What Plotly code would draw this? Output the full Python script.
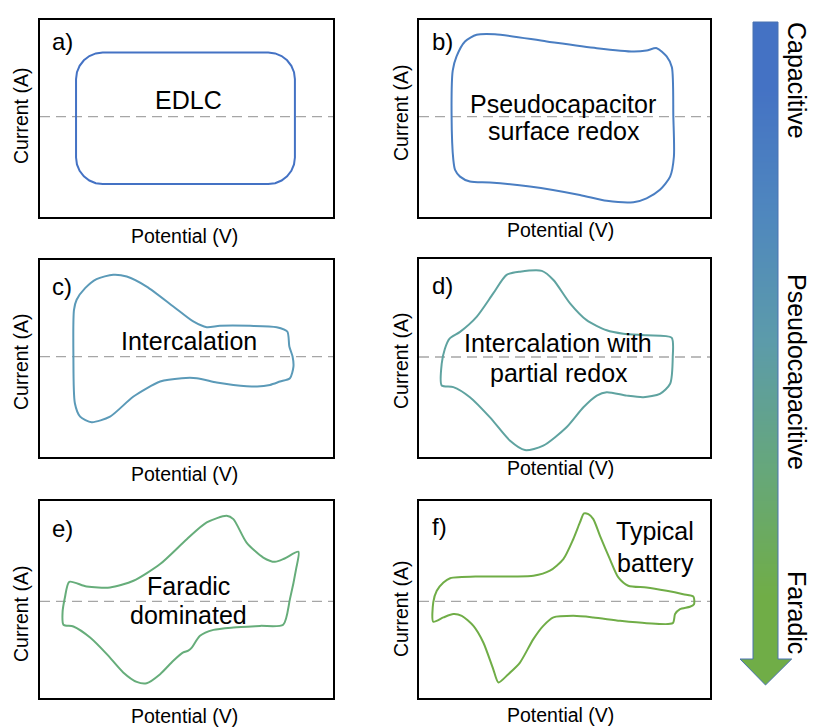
import plotly.graph_objects as go

# ------------------------------------------------------------------ data
# Schematic cyclic voltammograms (potential 0-100, current in arbitrary units, 0 = dashed line)
potential_a = [12.3, 12.3, 12.61, 13.52, 14.97, 16.85, 19.04, 21.4,
               77.9, 80.26, 82.45, 84.33, 85.78, 86.69, 87.0,
               87.0, 86.69, 85.78, 84.33, 82.45, 80.26, 77.9,
               21.4, 19.04, 16.85, 14.97, 13.52, 12.61, 12.3, 12.3]
current_a = [0, 19.0, 22.5, 25.75, 28.55, 30.69, 32.04, 32.5,
             32.5, 32.04, 30.69, 28.55, 25.75, 22.5, 19.0,
             -20.8, -24.3, -27.55, -30.35, -32.49, -33.84, -34.3,
             -34.3, -33.84, -32.49, -30.35, -27.55, -24.3, -20.8, 0]

potential_b = [11.6, 12.9, 15.8, 19.8, 26.1, 43.9, 61.1, 73.7, 78.2, 81.7, 85.1, 86.9, 87.4, 87.6,
               86.3, 82.8, 78.2, 73.7, 64.5, 55.3, 38.1, 24.4, 17.5, 14.1, 12.4, 11.8, 11.2, 11.6]
current_b = [23.4, 30.5, 38.1, 41.5, 41.8, 38.1, 34.7, 33.0, 33.5, 34.7, 30.5, 25.0, 0, -20.3,
             -30.5, -37.2, -41.5, -43.5, -42.8, -39.8, -35.5, -33.5, -33.0, -30.5, -27.1, -22.0, 0, 23.4]

potential_c = [11.6, 12.5, 15.4, 19.3, 25.0, 29.6, 36.4, 45.5, 52.3, 56.9, 61.4, 71.7, 80.8, 84.4,
               85.1, 86.2, 86.5, 85.3, 81.9, 78.5, 74.1, 66.0, 60.3, 53.5, 48.4, 41.0, 31.9, 23.9,
               17.6, 13.7, 11.9, 11.4, 11.6]
current_c = [23.7, 28.8, 34.7, 39.3, 41.5, 40.6, 35.5, 25.4, 17.8, 14.9, 15.6, 15.6, 14.9, 12.7,
             5.1, 0, -5.1, -11.0, -12.7, -14.4, -15.2, -14.4, -13.2, -11.0, -11.0, -12.7, -20.3, -30.5,
             -33.3, -30.5, -23.7, 0, 23.7]

potential_d = [7.8, 7.8, 8.9, 10.5, 14.1, 19.8, 25.5, 30.1, 34.7, 42.2, 46.2, 51.9, 57.6, 64.5,
               70.2, 78.2, 86.8, 87.2, 86.3, 82.8, 77.1, 71.4, 64.5, 61.1, 56.5, 50.7, 42.7, 36.4,
               31.3, 24.4, 17.5, 11.8, 7.8]
current_d = [-14.4, -3.4, 4.2, 9.3, 12.7, 20.3, 32.1, 41.5, 43.1, 43.5, 38.9, 27.1, 18.6, 13.5,
             11.8, 11.0, 9.8, 0, -13.5, -18.6, -20.3, -19.5, -17.8, -19.5, -25.4, -35.5, -44.8, -47.0,
             -42.3, -30.5, -20.3, -15.2, -14.4]

potential_e = [10.0, 15.9, 23.9, 31.9, 41.0, 50.1, 56.9, 63.7, 66.0, 70.5, 76.2, 80.2, 83.5, 88.2,
               87.4, 85.3, 83.0, 75.1, 66.0, 59.2, 54.6, 51.8, 50.6, 48.9, 45.5, 41.0, 36.4, 33.0,
               28.4, 22.8, 17.1, 11.4, 8.0, 7.7, 8.5, 10.0]
current_e = [10.0, 7.6, 7.1, 10.5, 19.0, 31.6, 40.1, 43.5, 41.8, 29.9, 22.3, 20.1, 21.8, 25.2,
             16.4, 1.2, -11.8, -12.4, -13.2, -14.4, -17.4, -23.4, -25.0, -25.9, -30.1, -36.9, -41.5, -40.8,
             -36.0, -26.7, -18.3, -12.7, -11.8, -5.6, 2.0, 10.0]

potential_f = [4.9, 4.9, 6.1, 8.4, 10.7, 20.9, 32.4, 39.3, 45.0, 49.6, 53.0, 55.3, 56.7, 58.2, 59.9,
               62.2, 65.6, 68.5, 71.9, 78.2, 85.1, 90.8, 94.3, 94.5, 93.1, 89.7, 88.0, 87.2, 78.2,
               69.1, 59.9, 53.0, 46.2, 42.7, 39.3, 34.7, 30.7, 27.3, 25.5, 22.1, 18.7, 14.7, 11.8,
               8.4, 4.9]
current_f = [-10.3, -0.5, 5.4, 9.6, 11.8, 12.7, 12.7, 13.0, 15.6, 21.5, 31.6, 40.1, 44.7, 44.3, 41.8,
             33.3, 21.5, 12.2, 8.0, 7.1, 5.4, 3.7, 2.5, -1.4, -2.7, -3.9, -6.4, -11.0, -11.0,
             -9.8, -8.1, -7.3, -8.1, -12.4, -19.1, -31.0, -36.9, -41.1, -34.3, -20.8, -12.4, -7.3, -6.4,
             -8.1, -10.3]

panel_letters = ["a)", "b)", "c)", "d)", "e)", "f)"]
panel_labels = [["EDLC"], ["Pseudocapacitor", "surface redox"], ["Intercalation"],
                ["Intercalation with", "partial redox"], ["Faradic", "dominated"], ["Typical", "battery"]]
x_title = "Potential (V)"
y_title = "Current (A)"
arrow_labels = ["Capacitive", "Pseudocapacitive", "Faradic"]

potentials = [potential_a, potential_b, potential_c, potential_d, potential_e, potential_f]
currents = [current_a, current_b, current_c, current_d, current_e, current_f]

# ------------------------------------------------------------------ style / layout
W, H = 813, 727
FONT = "Liberation Sans, Arial, sans-serif"
curve_colors = ["#4472C4", "#4A7EC2", "#5B9AB8", "#5FA3A0", "#66AD7A", "#70AD47"]
curve_shapes = ["linear", "spline", "spline", "spline", "spline", "spline"]

# left, right, top, bottom (px), y-range
panels = [
    (40, 333, 20, 217, [-51, 49]),
    (419, 710, 20, 217, [-51, 49]),
    (40, 333, 260, 457, [-51, 49]),
    (419, 710, 259, 457, [-50.5, 49.5]),
    (40, 333, 501, 698, [-49, 51]),
    (419, 710, 501, 698, [-49, 51]),
]
letter_pos = [(50, 42), (430, 42), (50, 286), (430, 285), (50, 528), (430, 526)]
label_pos = [[(188.5, 100)], [(563, 104), (564, 131)], [(188.5, 341)],
             [(557.5, 343), (558.5, 373)], [(188.5, 586), (188, 615)], [(655, 531), (655, 563)]]
xtitle_pos = [(184, 236), (560, 230), (184, 474), (560, 468), (184, 716), (560, 715)]
ytitle_pos = [(21, 116), (401, 113), (21, 362), (401, 361), (21, 614), (401, 609)]


def px_x(v):
    return v / W


def px_y(v):
    return 1 - v / H


fig = go.Figure()
layout = {}
annotations = []

for i, (l, r, t, b, yr) in enumerate(panels):
    n = i + 1
    sx = "" if n == 1 else str(n)
    xa, ya = "x" + sx, "y" + sx
    fig.add_trace(go.Scatter(x=[0, 100], y=[0, 0], mode="lines",
                             line=dict(color="#A6A6A6", width=1.3, dash="10px,6px"),
                             xaxis=xa, yaxis=ya, hoverinfo="skip", showlegend=False))
    line = dict(color=curve_colors[i], width=2, shape=curve_shapes[i])
    if curve_shapes[i] == "spline":
        line["smoothing"] = 0.7
    fig.add_trace(go.Scatter(x=potentials[i], y=currents[i], mode="lines", line=line,
                             xaxis=xa, yaxis=ya, hoverinfo="skip", showlegend=False))
    axis_common = dict(showline=True, mirror=True, linecolor="black", linewidth=2,
                       showgrid=False, zeroline=False, showticklabels=False, ticks="",
                       fixedrange=True)
    layout["xaxis" + sx] = dict(domain=[px_x(l), px_x(r)], range=[0, 100], anchor=ya, **axis_common)
    layout["yaxis" + sx] = dict(domain=[px_y(b), px_y(t)], range=yr, anchor=xa, **axis_common)

    lx, ly = letter_pos[i]
    annotations.append(dict(text=panel_letters[i], x=px_x(lx), y=px_y(ly), xref="paper", yref="paper",
                            xanchor="left", yanchor="middle", showarrow=False,
                            font=dict(family=FONT, size=24, color="black")))
    for txt, (tx, ty) in zip(panel_labels[i], label_pos[i]):
        annotations.append(dict(text=txt, x=px_x(tx), y=px_y(ty), xref="paper", yref="paper",
                                xanchor="center", yanchor="middle", showarrow=False,
                                font=dict(family=FONT, size=25, color="black")))
    tx, ty = xtitle_pos[i]
    annotations.append(dict(text=x_title, x=px_x(tx), y=px_y(ty), xref="paper", yref="paper",
                            xanchor="center", yanchor="middle", showarrow=False,
                            font=dict(family=FONT, size=19.5, color="black")))
    tx, ty = ytitle_pos[i]
    annotations.append(dict(text=y_title, x=px_x(tx), y=px_y(ty), xref="paper", yref="paper",
                            xanchor="center", yanchor="middle", showarrow=False, textangle=-90,
                            font=dict(family=FONT, size=19.5, color="black")))

# ------------------------------------------------------------------ gradient arrow
AX_L, AX_R, AX_T, AX_B = 735, 800, 15, 695
gradient_scale = [[0, "#4472C4"], [0.25, "#4F87BE"], [0.5, "#5C9BAA"], [0.75, "#66A77B"], [1, "#70AD47"]]
shaft_l, shaft_r, shaft_t, shaft_b = 753, 778, 22, 660
head_l, head_r, head_tip = 740, 791.7, 685
nrows = 5
y_edges = [shaft_t + k * (shaft_b - shaft_t) / nrows for k in range(nrows + 1)]
zvals = [[k / (nrows - 1)] * 2 for k in range(nrows)]
fig.add_trace(go.Heatmap(z=zvals, x=[shaft_l, (shaft_l + shaft_r) / 2, shaft_r], y=y_edges,
                         colorscale=gradient_scale, zmin=0, zmax=1, showscale=False,
                         zsmooth="best", hoverinfo="skip", xaxis="x7", yaxis="y7"))
fig.add_trace(go.Scatter(x=[head_l, head_r, (shaft_l + shaft_r) / 2, head_l],
                         y=[shaft_b - 1, shaft_b - 1, head_tip, shaft_b - 1],
                         fill="toself", fillcolor="#70AD47", mode="lines", line=dict(width=0),
                         hoverinfo="skip", showlegend=False, xaxis="x7", yaxis="y7"))
fig.add_trace(go.Scatter(x=[shaft_l, shaft_r, shaft_r, head_r, (shaft_l + shaft_r) / 2, head_l, shaft_l, shaft_l],
                         y=[shaft_t, shaft_t, shaft_b - 1, shaft_b - 1, head_tip, shaft_b - 1, shaft_b - 1, shaft_t],
                         mode="lines", line=dict(color="#4A72B0", width=1),
                         hoverinfo="skip", showlegend=False, xaxis="x7", yaxis="y7"))
layout["xaxis7"] = dict(domain=[px_x(AX_L), px_x(AX_R)], range=[AX_L, AX_R], visible=False,
                        anchor="y7", fixedrange=True)
layout["yaxis7"] = dict(domain=[px_y(AX_B), px_y(AX_T)], range=[AX_B, AX_T], visible=False,
                        anchor="x7", fixedrange=True)

arrow_text_pos = [(797, 80), (797, 372), (797, 612)]
for txt, (tx, ty) in zip(arrow_labels, arrow_text_pos):
    annotations.append(dict(text=txt, x=px_x(tx), y=px_y(ty), xref="paper", yref="paper",
                            xanchor="center", yanchor="middle", showarrow=False, textangle=90,
                            font=dict(family=FONT, size=25, color="black")))

fig.update_layout(width=W, height=H, margin=dict(l=0, r=0, t=0, b=0),
                  paper_bgcolor="white", plot_bgcolor="white", showlegend=False,
                  annotations=annotations, **layout)

fig.write_html("out.html")
